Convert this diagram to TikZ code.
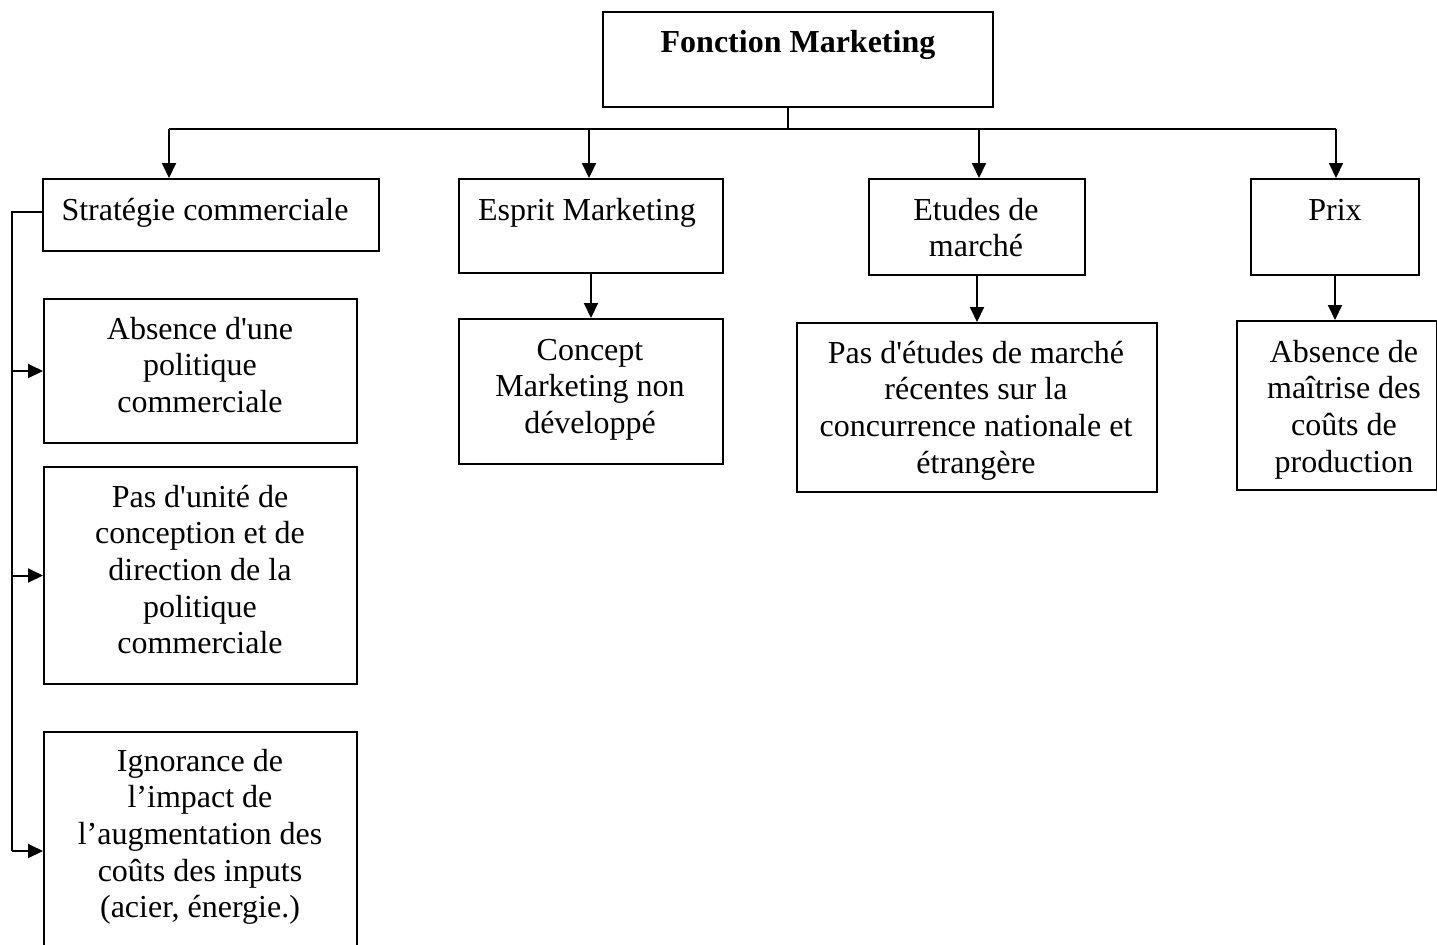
\documentclass[tikz,border=0pt]{standalone}
\usepackage{fontspec}
\setmainfont{Liberation Serif}[Ligatures=TeXOff]
\usetikzlibrary{arrows.meta}
% a centred block of lines whose baseline is that of its first line
\newcommand{\mlines}[1]{\begin{tabular}[t]{@{}c@{}}#1\end{tabular}}
\tikzset{
  box/.style={draw, line width=1pt, inner sep=0pt, anchor=north west},
  txt/.style={inner sep=0pt, anchor=base,
    font=\fontsize{16pt}{18.35pt}\selectfont},
  link/.style={line width=1pt},
  arr/.style={line width=1pt, -{Triangle[width=7pt,length=7.5pt]}}
}
\begin{document}
\begin{tikzpicture}[x=0.5pt, y=-0.5pt]
\clip (0,0) rectangle (1437,944);
\fill[white] (0,0) rectangle (1437,944);

% boxes (top-left corner in px, sizes in pt = px/2)
\node[box, minimum width=195pt, minimum height=47.5pt] (top) at (602,11) {};
\node[box, minimum width=168pt, minimum height=36pt] (strat) at (42,178) {};
\node[box, minimum width=132pt, minimum height=47pt] (esprit) at (458,178) {};
\node[box, minimum width=108pt, minimum height=48pt] (etudes) at (868,178) {};
\node[box, minimum width=84pt, minimum height=48pt] (prix) at (1250,178) {};
\node[box, minimum width=132pt, minimum height=72.5pt] (concept) at (458,318) {};
\node[box, minimum width=180pt, minimum height=84.5pt] (pas) at (796,322) {};
\node[box, minimum width=100pt, minimum height=84.5pt] (absence) at (1236,320) {};
\node[box, minimum width=156.5pt, minimum height=72pt] (a1) at (43,298) {};
\node[box, minimum width=156.5pt, minimum height=108.5pt] (a2) at (43,466) {};
\node[box, minimum width=156.5pt, minimum height=120pt] (a3) at (43,731) {};

% texts
\node[txt, font=\fontsize{16pt}{18.35pt}\selectfont\bfseries] (ttop) at (798,52) {Fonction Marketing};
\node[txt] (tstrat) at (205,220) {Stratégie commerciale};
\node[txt] (tesprit) at (587,220) {Esprit Marketing};
\node[txt] (tetudes) at (976,220) {\mlines{Etudes de\\marché}};
\node[txt] (tprix) at (1335,220) {Prix};
\node[txt] (tconcept) at (590,360) {\mlines{Concept\\Marketing non\\développé}};
\node[txt] (tpas) at (976,363) {\mlines{Pas d'études de marché\\récentes sur la\\concurrence nationale et\\étrangère}};
\node[txt] (tabsence) at (1344,362) {\mlines{Absence de\\maîtrise des\\coûts de\\production}};
\node[txt] (ta1) at (200,339) {\mlines{Absence d'une\\politique\\commerciale}};
\node[txt] (ta2) at (200,507) {\mlines{Pas d'unité de\\conception et de\\direction de la\\politique\\commerciale}};
\node[txt] (ta3) at (200,771) {\mlines{Ignorance de\\l’impact de\\l’augmentation des\\coûts des inputs\\(acier, énergie.)}};

% distribution bus under the title box
\coordinate (hub) at (788,129);
\coordinate (b1) at (169,129);
\coordinate (b2) at (589,129);
\coordinate (b3) at (979,129);
\coordinate (b4) at (1336,129);
\draw[link] (top.south -| hub) -- (hub);
\draw[link] (b1) -- (b4);
\draw[arr] (b1) -- (b1 |- strat.north);
\draw[arr] (b2) -- (b2 |- esprit.north);
\draw[arr] (b3) -- (b3 |- etudes.north);
\draw[arr] (b4) -- (b4 |- prix.north);

% second level
\draw[arr] (esprit.south) -- (concept.north);
\draw[arr] (etudes.south) -- (etudes.south |- pas.north);
\draw[arr] (prix.south) -- (prix.south |- absence.north);

% left bracket
\coordinate (brtop) at (12,212);
\coordinate (brbot) at (12,851);
\draw[link] (strat.west |- brtop) -- (brtop) -- (brbot);
\draw[arr] (brtop |- a1.west) -- (a1.west);
\draw[arr] (brtop |- a2.west) -- (a2.west);
\draw[arr] (brbot) -- (brbot -| a3.west);
\end{tikzpicture}
\end{document}
